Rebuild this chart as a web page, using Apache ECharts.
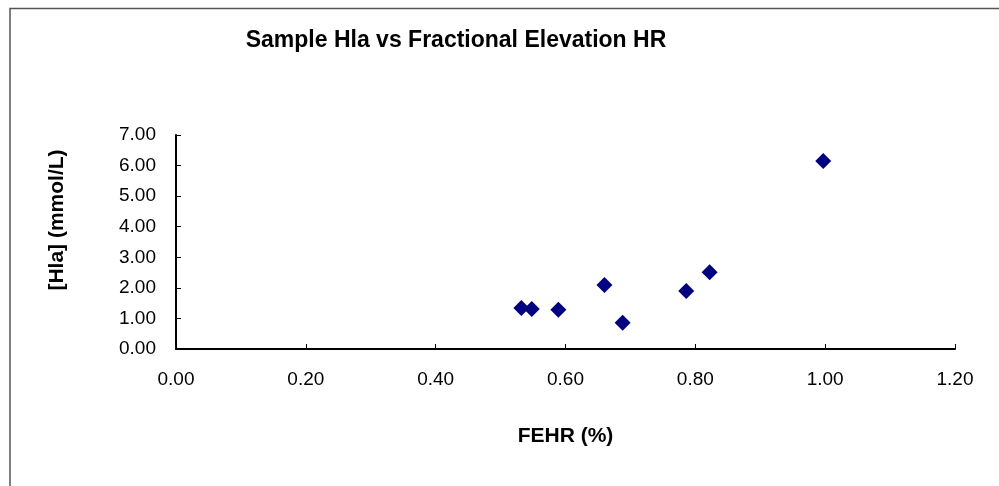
<!DOCTYPE html>
<html>
<head>
<meta charset="utf-8">
<script src="https://cdn.jsdelivr.net/npm/echarts@6/dist/echarts.min.js"></script>
<style>
  html, body { margin: 0; padding: 0; background: #fff; }
  #chart { width: 999px; height: 486px; }
</style>
</head>
<body>
<div id="chart"></div>
<script>
// 数据
var fehr = [0.532, 0.548, 0.589, 0.660, 0.688, 0.786, 0.822, 0.997];
var hla  = [1.34, 1.31, 1.28, 2.09, 0.86, 1.90, 2.51, 6.15];
var titleText = 'Sample Hla vs Fractional Elevation HR';
var xName = 'FEHR (%)';
var yName = '[Hla] (mmol/L)';

var points = fehr.map(function(x, i){
    return [x, hla[i]];
});

var font = 'Liberation Sans, Arial, sans-serif';
var myChart = echarts.init(document.getElementById('chart'));
var option = {
    backgroundColor: '#fff',
    animation: false,
    title: {
        text: titleText,
        left: 451,
        top: 24,
        textAlign: 'center',
        textStyle: { fontFamily: font, fontSize: 23, fontWeight: 'bold', color: '#000' }
    },
    graphic: [
        {
            type: 'polyline',
            shape: { points: [[10, 490], [10, 8.5], [1000, 8.5]] },
            style: { stroke: '#555', lineWidth: 1.5, fill: null }
        },
        {
            type: 'text',
            x: 57,
            y: 220,
            rotation: Math.PI / 2,
            style: {
                text: yName,
                fontFamily: font,
                fontSize: 21,
                fontWeight: 'bold',
                fill: '#000',
                align: 'center',
                verticalAlign: 'middle'
            }
        }
    ],
    grid: {
        left: 176,
        right: 44,
        top: 135,
        bottom: 137
    },
    xAxis: {
        type: 'value',
        min: 0,
        max: 1.2,
        interval: 0.2,
        name: xName,
        nameLocation: 'middle',
        nameGap: 77,
        nameTextStyle: { fontFamily: font, fontSize: 21, fontWeight: 'bold', color: '#000' },
        splitLine: { show: false },
        axisLine: { lineStyle: { color: '#000', width: 2 } },
        axisTick: { inside: true, length: 5, lineStyle: { color: '#000', width: 1 } },
        axisLabel: {
            margin: 21,
            fontFamily: font,
            fontSize: 19,
            color: '#000',
            formatter: function(v){ return v.toFixed(2); }
        }
    },
    yAxis: {
        type: 'value',
        min: 0,
        max: 7,
        interval: 1,
        splitLine: { show: false },
        axisLine: { show: true, lineStyle: { color: '#000', width: 2 } },
        axisTick: { show: true, inside: true, length: 5, lineStyle: { color: '#000', width: 1 } },
        axisLabel: {
            margin: 20,
            fontFamily: font,
            fontSize: 19,
            color: '#000',
            formatter: function(v){ return v.toFixed(2); }
        }
    },
    series: [{
        type: 'scatter',
        data: points,
        symbol: 'diamond',
        symbolSize: 16,
        itemStyle: { color: '#000080', opacity: 1 }
    }]
};
myChart.setOption(option);
</script>
</body>
</html>
